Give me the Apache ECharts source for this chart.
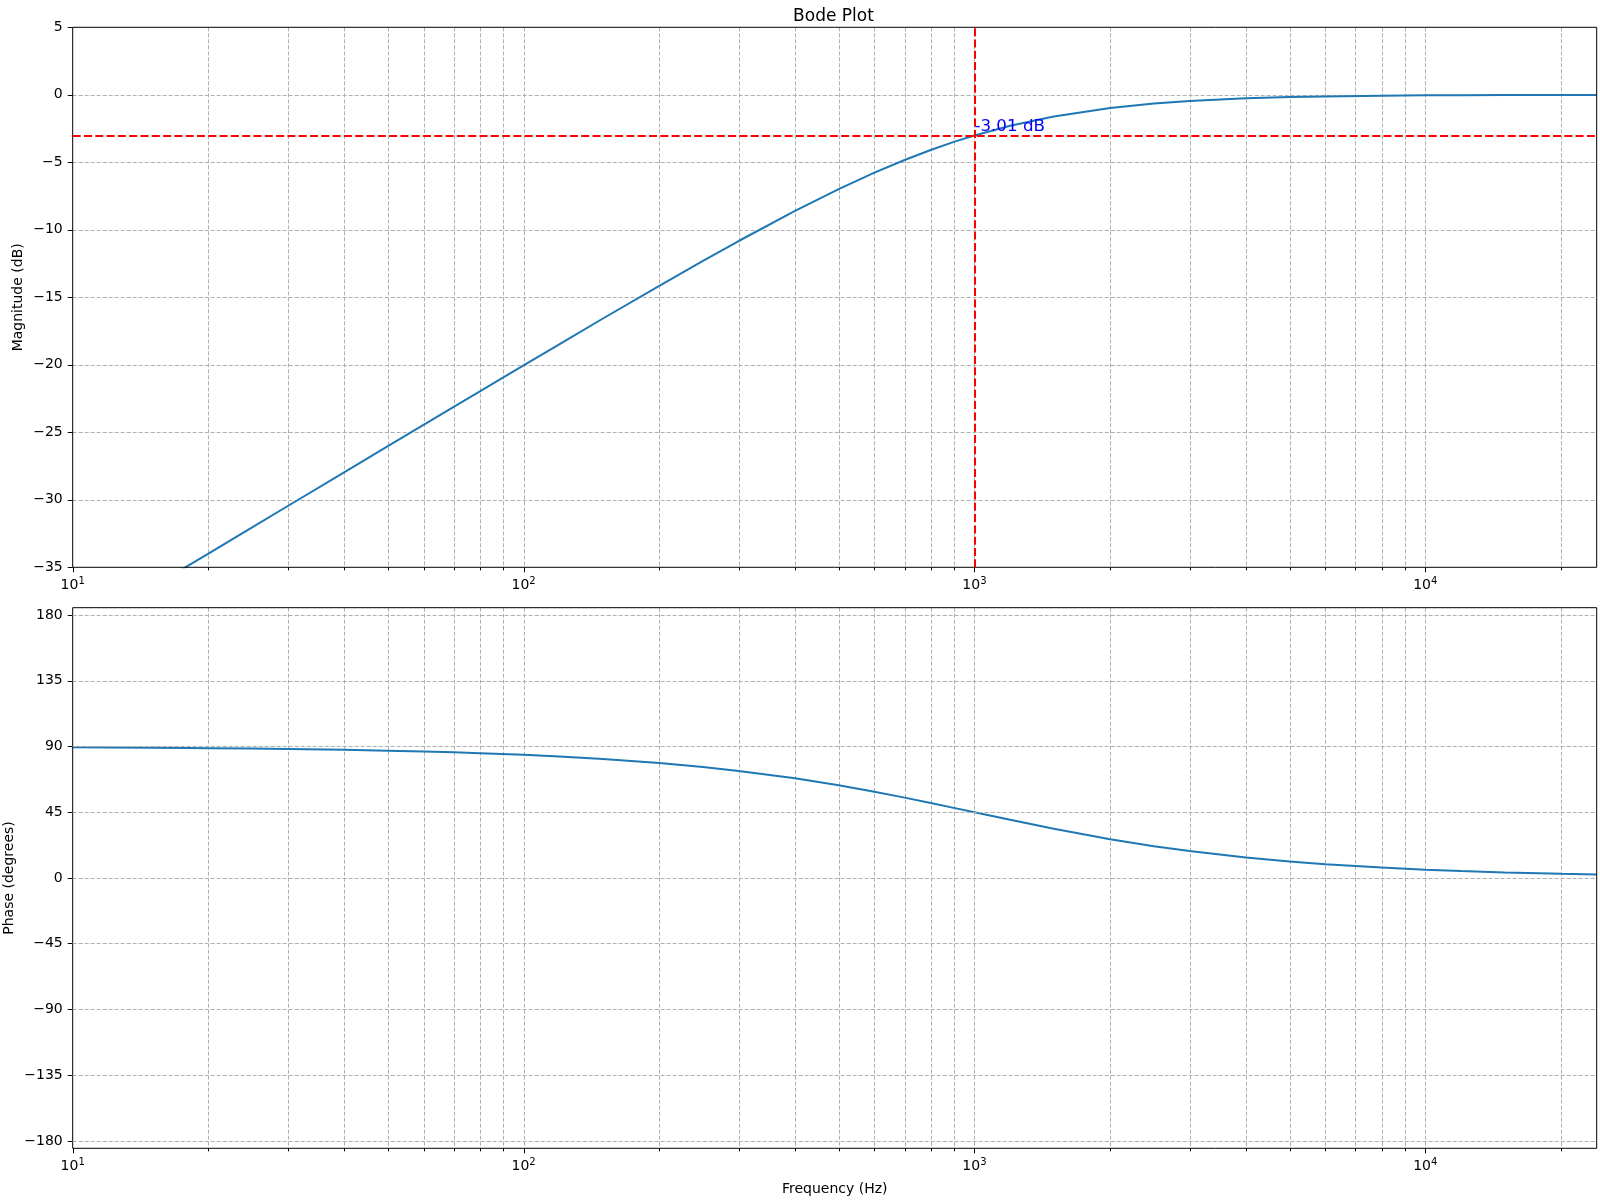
<!DOCTYPE html>
<html><head><meta charset="utf-8">
<script src="https://cdn.jsdelivr.net/npm/echarts@6/dist/echarts.min.js"></script>
<style>html,body{margin:0;padding:0;background:#fff}#c{width:1600px;height:1200px}</style>
</head><body><div id="c"></div>
<script>
// ---- data ----
const freqs = [10,12,15,18,20,25,30,40,50,60,70,80,100,120,150,200,250,300,400,500,600,700,800,900,1000,1200,1500,2000,2500,3000,4000,5000,6000,8000,10000,12000,15000,20000,24000];
const magnitudeDb = [-40.0,-38.42,-36.48,-34.90,-33.98,-32.04,-30.46,-27.97,-26.03,-24.45,-23.12,-21.97,-20.04,-18.48,-16.57,-14.15,-12.30,-10.83,-8.60,-6.99,-5.77,-4.83,-4.09,-3.49,-3.01,-2.29,-1.60,-0.97,-0.64,-0.46,-0.26,-0.17,-0.12,-0.07,-0.04,-0.03,-0.02,-0.01,-0.01];
const phaseDeg = [89.43,89.31,89.14,88.97,88.85,88.57,88.28,87.71,87.14,86.57,86.00,85.43,84.29,83.16,81.47,78.69,75.96,73.30,68.20,63.43,59.04,55.01,51.34,48.01,45.00,39.81,33.69,26.57,21.80,18.43,14.04,11.31,9.46,7.13,5.71,4.76,3.81,2.86,2.39];
const cutoffFreq = 1000;
const cutoffDb = -3.01;
const decadeTicks = [10,100,1000,10000];
const minorFreqs = [20,30,40,50,60,70,80,90,200,300,400,500,600,700,800,900,2000,3000,4000,5000,6000,7000,8000,9000,20000];
const magTicks = [-35,-30,-25,-20,-15,-10,-5,0,5];
const phaseTicks = [-180,-135,-90,-45,0,45,90,135,180];

// ---- layout ----
const X_MIN = 10, X_MAX = 24000;
const MAG_MIN = -35, MAG_MAX = 5;
const PH_MIN = -185, PH_MAX = 185;
const FONT = 'DejaVu Sans';
const GRID_COLOR = '#b0b0b0';

const chart = echarts.init(document.getElementById('c'), null, {renderer: 'canvas'});
const uminus = v => String(v).replace('-', '\u2212');

function xAxis(gridIndex) {
  return {
    type: 'log', logBase: 10, gridIndex, min: X_MIN, max: X_MAX,
    axisLine: {show: false}, axisTick: {show: false}, splitLine: {show: false},
    axisLabel: {
      margin: 9, fontFamily: FONT, color: '#000',
      formatter: v => {
        const e = Math.log10(v);
        if (Math.abs(e - Math.round(e)) > 1e-6) return '';
        return '{b|10}{s|' + Math.round(e) + '}';
      },
      rich: {
        b: {fontSize: 14, fontFamily: FONT, color: '#000'},
        s: {fontSize: 10, fontFamily: FONT, color: '#000', padding: [0, 0, 8, 0]}
      }
    }
  };
}

function gridSeries(gridIndex, yMin, yMax) {
  const all = decadeTicks.map(f => [f, 1]).concat(minorFreqs.map(f => [f, 0]));
  return {
    type: 'custom', xAxisIndex: gridIndex, yAxisIndex: gridIndex, clip: false, silent: true, z: 1,
    data: all,
    renderItem: (params, api) => {
      const f = api.value(0);
      const major = api.value(1) === 1;
      const t = api.coord([f, yMax]);
      const b = api.coord([f, yMin]);
      const x = Math.round(t[0]) + 0.5;
      const children = [
        {type: 'line', shape: {x1: x, y1: b[1], x2: x, y2: b[1] + (major ? 5 : 3)},
         style: {stroke: '#000', lineWidth: 1}}
      ];
      if (f !== X_MIN) children.push(
        {type: 'line', shape: {x1: x, y1: t[1], x2: x, y2: b[1]},
         style: {stroke: GRID_COLOR, lineWidth: 1, lineDash: [4, 2]}});
      return {type: 'group', children};
    }
  };
}

const gridBase = {left: 72.7, width: 1524, show: true, borderColor: '#000', borderWidth: 1,
  backgroundColor: 'transparent', containLabel: false, outerBoundsMode: 'none'};

const option = {
  animation: false,
  backgroundColor: '#fff',
  title: {
    text: 'Bode Plot', left: 828.5, top: 3, textAlign: 'center',
    textStyle: {fontFamily: FONT, fontSize: 17, fontWeight: 'normal', color: '#000'}
  },
  grid: [
    Object.assign({top: 27.3, height: 540, z: 5}, gridBase),
    Object.assign({top: 607.7, height: 540.6, z: 5}, gridBase)
  ],
  xAxis: [
    xAxis(0),
    Object.assign(xAxis(1), {
      name: 'Frequency (Hz)', nameLocation: 'middle', nameGap: 34, nameMoveOverlap: false,
      nameTextStyle: {fontFamily: FONT, fontSize: 14, color: '#000'}
    })
  ],
  yAxis: [
    {
      type: 'value', gridIndex: 0, min: MAG_MIN, max: MAG_MAX, interval: 5,
      name: 'Magnitude (dB)', nameLocation: 'middle', nameGap: 47, nameMoveOverlap: false,
      nameTextStyle: {fontFamily: FONT, fontSize: 14, color: '#000'},
      axisLine: {show: false},
      axisTick: {show: true, length: 5, lineStyle: {color: '#000'}},
      axisLabel: {margin: 10, fontFamily: FONT, fontSize: 14, color: '#000', formatter: uminus},
      splitLine: {show: false}
    },
    {
      type: 'value', gridIndex: 1, min: PH_MIN, max: PH_MAX,
      name: 'Phase (degrees)', nameLocation: 'middle', nameGap: 56, nameMoveOverlap: false,
      nameTextStyle: {fontFamily: FONT, fontSize: 14, color: '#000'},
      axisLine: {show: false},
      axisTick: {show: true, length: 5, lineStyle: {color: '#000'}, customValues: phaseTicks},
      axisLabel: {margin: 10, fontFamily: FONT, fontSize: 14, color: '#000', formatter: uminus, customValues: phaseTicks},
      splitLine: {show: false}
    }
  ],
  series: [
    gridSeries(0, MAG_MIN, MAG_MAX),
    gridSeries(1, PH_MIN, PH_MAX),
    {
      type: 'line', xAxisIndex: 0, yAxisIndex: 0, showSymbol: false, z: 3,
      data: freqs.map((f, i) => [f, magnitudeDb[i]]),
      lineStyle: {color: '#1f77b4', width: 2}, itemStyle: {color: '#1f77b4'},
      markLine: {
        silent: true, symbol: 'none', animation: false,
        label: {show: false},
        lineStyle: {color: '#ff0000', width: 2, type: [8, 3.3]},
        data: [{yAxis: cutoffDb}, {xAxis: cutoffFreq}]
      },
      markPoint: {
        silent: true, symbol: 'circle', symbolSize: 0,
        data: [{coord: [cutoffFreq, cutoffDb]}],
        label: {
          show: true, position: [0, 0], align: 'left', verticalAlign: 'bottom',
          formatter: cutoffDb.toFixed(2) + ' dB',
          fontFamily: FONT, fontSize: 16.7, color: '#0000ff'
        }
      }
    },
    {
      type: 'line', xAxisIndex: 0, yAxisIndex: 0, showSymbol: false, z: 1, silent: true,
      data: [],
      markLine: {
        silent: true, symbol: 'none', animation: false, z: 1,
        label: {show: false},
        lineStyle: {color: GRID_COLOR, width: 1, type: [4, 2]},
        data: magTicks.filter(v => v !== MAG_MIN && v !== MAG_MAX).map(v => ({yAxis: v}))
      }
    },
    {
      type: 'line', xAxisIndex: 1, yAxisIndex: 1, showSymbol: false, z: 3,
      data: freqs.map((f, i) => [f, phaseDeg[i]]),
      lineStyle: {color: '#1f77b4', width: 2}, itemStyle: {color: '#1f77b4'},
      markLine: {
        silent: true, symbol: 'none', animation: false,
        label: {show: false},
        lineStyle: {color: GRID_COLOR, width: 1, type: [4, 2]},
        data: phaseTicks.map(v => ({yAxis: v}))
      }
    }
  ]
};
chart.setOption(option);
</script>
</body></html>
